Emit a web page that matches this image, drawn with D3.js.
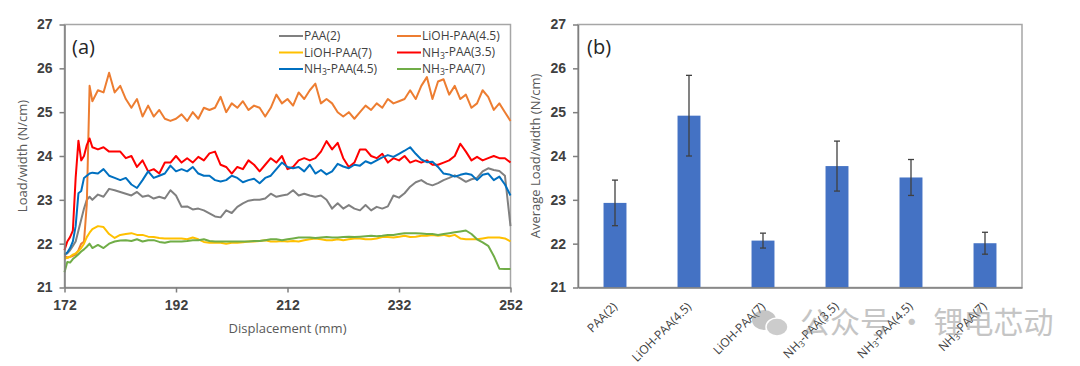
<!DOCTYPE html>
<html lang="en">
<head>
    <meta charset="UTF-8">
    <title>Peel strength</title>
    <script src="https://cdnjs.cloudflare.com/ajax/libs/d3/7.8.5/d3.min.js"></script>
    <style>
        body {
            margin: 0;
            background-color: white;
        }

        svg {
            display: block;
            font-family: "Open Sans", sans-serif;
        }

        .axis path, .axis line {
            stroke: #7f7f7f;
            stroke-width: 1.5;
        }

        .axis text {
            font-size: 14px;
            font-weight: 600;
            fill: #404040;
        }

        .frame {
            fill: none;
            stroke: #a6a6a6;
            stroke-width: 1.5;
        }

        .title {
            font-size: 13px;
            fill: #595959;
        }
    </style>
</head>
<body>
<svg id="chart" width="1080" height="366"></svg>
<script>
    // panel (a): load/width vs displacement
    const displacement = [172, 172.5, 173, 173.5, 174, 174.5, 175, 175.5, 176, 176.5, ...d3.range(177, 253)];

    const seriesNames = ['PAA(2)', 'LiOH-PAA(4.5)', 'LiOH-PAA(7)', 'NH3-PAA(3.5)', 'NH3-PAA(4.5)', 'NH3-PAA(7)'];
    const seriesColors = ['#808080', '#ed7d31', '#ffc000', '#ff0000', '#0070c0', '#70ad47'];

    const paa2 = [21.75, 21.78, 21.85, 21.95, 22.05, 22.3, 22.55, 22.8, 23.0, 23.07,
        23.0, 23.12, 23.07, 23.25, 23.22, 23.18, 23.14, 23.1, 23.18, 23.07,
        23.1, 23.03, 23.07, 23.03, 23.22, 23.1, 22.84, 22.85, 22.78, 22.8,
        22.76, 22.69, 22.62, 22.6, 22.76, 22.7, 22.84, 22.92, 22.98, 23.0,
        23.0, 23.03, 23.14, 23.07, 23.1, 23.12, 23.22, 23.1, 23.14, 23.1,
        23.07, 23.1, 23.0, 22.8, 22.92, 22.8, 22.88, 22.8, 22.76, 22.88,
        22.76, 22.84, 22.8, 22.85, 23.1, 23.05, 23.15, 23.3, 23.4, 23.45,
        23.37, 23.33, 23.38, 23.45, 23.5, 23.56, 23.49, 23.41, 23.47, 23.5,
        23.65, 23.72, 23.68, 23.66, 23.55, 22.4];
    const lioh45 = [21.72, 21.68, 21.7, 21.72, 21.75, 21.85, 22.0, 22.05, 22.9, 25.6,
        25.25, 25.5, 25.45, 25.9, 25.45, 25.6, 25.3, 25.1, 25.3, 24.9,
        25.15, 24.9, 25.05, 24.85, 24.8, 24.85, 24.95, 24.8, 25.0, 24.85,
        25.1, 25.05, 25.1, 25.35, 25.0, 25.2, 25.1, 25.25, 25.05, 25.15,
        25.1, 24.9, 25.1, 25.4, 25.2, 25.3, 25.15, 25.45, 25.3, 25.5,
        25.65, 25.2, 25.3, 25.2, 25.0, 24.9, 25.0, 24.85, 25.0, 25.15,
        25.05, 25.2, 25.1, 25.3, 25.2, 25.25, 25.3, 25.5, 25.3, 25.6,
        25.8, 25.3, 25.7, 25.75, 25.4, 25.6, 25.3, 25.4, 25.1, 25.2,
        25.5, 25.35, 25.05, 25.2, 25.0, 24.8];
    const lioh7 = [21.65, 21.68, 21.7, 21.75, 21.78, 21.83, 21.9, 22.0, 22.15, 22.25,
        22.33, 22.4, 22.38, 22.22, 22.13, 22.2, 22.22, 22.24, 22.2, 22.2,
        22.16, 22.15, 22.13, 22.12, 22.12, 22.12, 22.12, 22.1, 22.14, 22.1,
        22.04, 22.02, 22.02, 22.02, 22.0, 22.02, 22.02, 22.03, 22.05, 22.05,
        22.06, 22.08, 22.05, 22.05, 22.06, 22.05, 22.06, 22.05, 22.08, 22.1,
        22.12, 22.1, 22.08, 22.08, 22.1, 22.08, 22.1, 22.12, 22.12, 22.1,
        22.1, 22.12, 22.15, 22.15, 22.14, 22.16, 22.18, 22.15, 22.16, 22.18,
        22.18, 22.2, 22.18, 22.2, 22.17, 22.2, 22.12, 22.1, 22.1, 22.1,
        22.12, 22.14, 22.14, 22.14, 22.12, 22.05];
    const nh35 = [21.85, 22.05, 22.15, 22.3, 23.5, 24.35, 23.9, 24.0, 24.25, 24.4,
        24.2, 24.15, 24.2, 24.1, 24.1, 24.1, 23.95, 24.0, 23.75, 23.9,
        23.65, 23.7, 23.6, 23.85, 23.85, 24.0, 23.85, 23.95, 23.85, 23.98,
        23.9, 24.06, 24.1, 23.8, 23.75, 23.6, 23.75, 23.7, 23.9, 23.8,
        23.65, 23.8, 23.95, 23.85, 24.0, 23.7, 23.75, 23.9, 23.95, 23.9,
        23.95, 24.1, 24.34, 24.15, 24.3, 23.95, 23.75, 23.85, 24.15, 24.15,
        24.0, 23.95, 24.05, 23.85, 23.95, 23.9, 24.0, 23.85, 23.9, 23.85,
        23.9, 23.8, 23.8, 23.85, 23.9, 24.0, 24.28, 24.1, 23.9, 23.98,
        23.9, 23.95, 24.0, 23.95, 23.95, 23.85];
    const nh45 = [21.75, 21.8, 21.9, 22.05, 22.4, 23.15, 23.2, 23.5, 23.55, 23.6,
        23.62, 23.6, 23.7, 23.55, 23.5, 23.45, 23.5, 23.35, 23.27, 23.45,
        23.65, 23.5, 23.55, 23.6, 23.78, 23.65, 23.7, 23.65, 23.75, 23.6,
        23.55, 23.55, 23.45, 23.42, 23.45, 23.55, 23.5, 23.4, 23.45, 23.48,
        23.38, 23.5, 23.55, 23.7, 23.85, 23.75, 23.72, 23.75, 23.65, 23.8,
        23.6, 23.68, 23.58, 23.65, 23.82, 23.76, 23.72, 23.8, 23.78, 23.88,
        23.83, 23.9, 23.97, 24.02, 23.98, 24.05, 24.12, 24.2, 24.05, 23.92,
        23.86, 23.87, 23.75, 23.6, 23.58, 23.53, 23.57, 23.6, 23.57, 23.45,
        23.57, 23.6, 23.45, 23.53, 23.35, 23.1];
    const nh7 = [21.35, 21.58, 21.57, 21.65, 21.7, 21.76, 21.82, 21.87, 21.93, 22.0,
        21.9, 21.97, 21.9, 22.0, 22.05, 22.07, 22.08, 22.06, 22.1, 22.05,
        22.08, 22.08, 22.04, 22.02, 22.05, 22.05, 22.05, 22.06, 22.08, 22.08,
        22.1, 22.06, 22.05, 22.05, 22.05, 22.05, 22.05, 22.05, 22.05, 22.06,
        22.06, 22.08, 22.1, 22.1, 22.08, 22.1, 22.12, 22.14, 22.14, 22.14,
        22.13, 22.14, 22.15, 22.14, 22.14, 22.15, 22.16, 22.15, 22.16, 22.17,
        22.18, 22.17, 22.18, 22.2, 22.2, 22.22, 22.24, 22.24, 22.24, 22.23,
        22.22, 22.22, 22.2, 22.22, 22.24, 22.26, 22.28, 22.3, 22.22, 22.1,
        22.03, 21.95, 21.72, 21.43, 21.42, 21.42];
    const seriesValues = [paa2, lioh45, lioh7, nh35, nh45, nh7];

    // panel (b): average load/width with error bars
    const barCategories = ['PAA(2)', 'LiOH-PAA(4.5)', 'LiOH-PAA(7)', 'NH3-PAA(3.5)', 'NH3-PAA(4.5)', 'NH3-PAA(7)'];
    const barMeans = [22.93, 24.92, 22.07, 23.77, 23.51, 22.01];
    const barErrors = [0.52, 0.92, 0.17, 0.57, 0.41, 0.25];

    const yTicks = [21, 22, 23, 24, 25, 26, 27];
    const xTicks = [172, 192, 212, 232, 252];

    const svg = d3.select('#chart');

    // writes "NH3" with a subscript 3
    function labelText(sel, name) {
        if (name.startsWith('NH3')) {
            sel.append('tspan').text('NH');
            sel.append('tspan').attr('font-size', '0.72em').attr('dy', '0.22em').text('3');
            sel.append('tspan').attr('dy', '-0.22em').text(name.slice(3));
        } else {
            sel.text(name);
        }
    }

    // ---------- (a) ----------
    const xA = d3.scaleLinear().domain([172, 252]).range([64.5, 510.5]);
    const yA = d3.scaleLinear().domain([21, 27]).range([287.5, 24.5]);

    svg.append('rect').attr('class', 'frame')
        .attr('x', xA(172)).attr('y', yA(27))
        .attr('width', xA(252) - xA(172)).attr('height', yA(21) - yA(27));

    const line = d3.line().x((d, i) => xA(displacement[i])).y(d => yA(d));

    svg.append('g').selectAll('path')
        .data(seriesValues)
        .join('path')
        .attr('d', d => line(d))
        .attr('fill', 'none')
        .attr('stroke', (d, i) => seriesColors[i])
        .attr('stroke-width', 2)
        .attr('stroke-linejoin', 'round');

    svg.append('g').attr('class', 'axis')
        .attr('transform', `translate(${xA(172)},0)`)
        .call(d3.axisLeft(yA).tickValues(yTicks).tickFormat(d3.format('d'))
            .tickSize(5).tickSizeOuter(0).tickPadding(7));

    svg.append('g').attr('class', 'axis')
        .attr('transform', `translate(0,${yA(21)})`)
        .call(d3.axisBottom(xA).tickValues(xTicks).tickFormat(d3.format('d'))
            .tickSize(5).tickSizeOuter(0).tickPadding(8));

    svg.append('text').attr('class', 'title')
        .attr('transform', `translate(27,${(yA(21) + yA(27)) / 2}) rotate(-90)`)
        .attr('text-anchor', 'middle')
        .text('Load/width (N/cm)');

    svg.append('text').attr('class', 'title')
        .attr('x', (xA(172) + xA(252)) / 2).attr('y', 333)
        .attr('text-anchor', 'middle')
        .text('Displacement (mm)');

    svg.append('text')
        .attr('x', 72).attr('y', 54)
        .attr('font-size', 20).attr('fill', '#262626')
        .text('(a)');

    // legend, two columns
    const legend = svg.append('g');
    seriesNames.forEach((name, i) => {
        const lx = i % 2 === 0 ? 279 : 397;
        const ly = 36 + Math.floor(i / 2) * 16.5;
        legend.append('line')
            .attr('x1', lx).attr('x2', lx + 24)
            .attr('y1', ly).attr('y2', ly)
            .attr('stroke', seriesColors[i]).attr('stroke-width', 2);
        const t = legend.append('text')
            .attr('x', lx + 25).attr('y', ly + 4.3)
            .attr('font-size', 12).attr('fill', '#404040');
        labelText(t, name);
    });

    // ---------- (b) ----------
    const xB = d3.scaleBand().domain(barCategories).range([578, 1022]).paddingInner(0.69).paddingOuter(0.345);
    const yB = d3.scaleLinear().domain([21, 27]).range([287.5, 24.5]);

    svg.append('rect').attr('class', 'frame')
        .attr('x', 578).attr('y', yB(27))
        .attr('width', 1022 - 578).attr('height', yB(21) - yB(27));

    svg.append('g').selectAll('rect')
        .data(barMeans)
        .join('rect')
        .attr('x', (d, i) => xB(barCategories[i]))
        .attr('y', d => yB(d))
        .attr('width', xB.bandwidth())
        .attr('height', d => yB(21) - yB(d))
        .attr('fill', '#4472c4');

    const err = svg.append('g').attr('stroke', '#404040').attr('stroke-width', 1.3);
    barMeans.forEach((m, i) => {
        const cx = xB(barCategories[i]) + xB.bandwidth() / 2;
        err.append('line').attr('x1', cx).attr('x2', cx)
            .attr('y1', yB(m - barErrors[i])).attr('y2', yB(m + barErrors[i]));
        [m - barErrors[i], m + barErrors[i]].forEach(v => {
            err.append('line').attr('x1', cx - 3).attr('x2', cx + 3)
                .attr('y1', yB(v)).attr('y2', yB(v));
        });
    });

    svg.append('g').attr('class', 'axis')
        .attr('transform', 'translate(578,0)')
        .call(d3.axisLeft(yB).tickValues(yTicks).tickFormat(d3.format('d'))
            .tickSize(5).tickSizeOuter(0).tickPadding(7));

    svg.append('g').attr('class', 'axis')
        .attr('transform', `translate(0,${yB(21)})`)
        .call(d3.axisBottom(xB).tickSize(0).tickSizeOuter(0).tickFormat(''));

    barCategories.forEach(name => {
        const cx = xB(name) + xB.bandwidth() / 2;
        const t = svg.append('text')
            .attr('transform', `translate(${cx + 3},${yB(21) + 20}) rotate(-45)`)
            .attr('text-anchor', 'end')
            .attr('font-size', 12).attr('fill', '#404040');
        labelText(t, name);
    });

    svg.append('text').attr('class', 'title')
        .attr('transform', `translate(540,${(yB(21) + yB(27)) / 2}) rotate(-90)`)
        .attr('text-anchor', 'middle')
        .text('Average Load/width (N/cm)');

    svg.append('text')
        .attr('x', 587).attr('y', 54)
        .attr('font-size', 20).attr('fill', '#262626')
        .text('(b)');

    // watermark
    const wm = svg.append('g').attr('opacity', 0.5);
    wm.append('ellipse').attr('cx', 764).attr('cy', 320).attr('rx', 12).attr('ry', 10).attr('fill', '#8c8c8c');
    wm.append('ellipse').attr('cx', 777).attr('cy', 327).attr('rx', 11).attr('ry', 9).attr('fill', '#9a9a9a')
        .attr('stroke', 'white').attr('stroke-width', 1.5);
    wm.append('text')
        .attr('x', 800).attr('y', 333)
        .attr('font-family', '"Noto Sans CJK SC", sans-serif')
        .attr('font-size', 30).attr('fill', '#8c8c8c')
        .text('公众号 · 锂电芯动');
</script>
</body>
</html>
